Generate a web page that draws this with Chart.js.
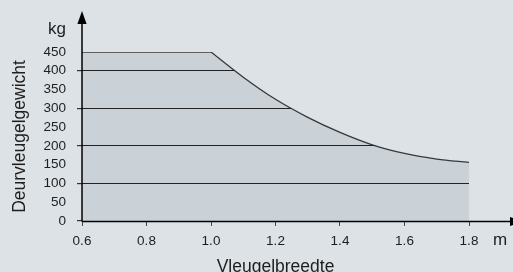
<!DOCTYPE html>
<html><head><meta charset="utf-8">
<script src="https://cdn.jsdelivr.net/npm/chart.js@4"></script>
<style>html,body{margin:0;padding:0;background:#dde2e6}canvas{display:block}</style>
</head><body>
<div style="width:513px;height:272px"><canvas id="c" width="513" height="272"></canvas></div>
<script>
// Data
const flatWidths = [0.6, 1.0];
const flatWeights = [450, 450];
const curveWidths = [1.0, 1.1, 1.2, 1.3, 1.4, 1.5, 1.6, 1.7, 1.8];
const curveWeights = [450, 383, 324, 276, 236, 203, 180, 165, 156];
const xTicks = [0.6, 0.8, 1.0, 1.2, 1.4, 1.6, 1.8];
const yTicks = [0, 50, 100, 150, 200, 250, 300, 350, 400, 450];
const gridValues = [0, 100, 200, 300, 400];
const xTitle = 'Vleugelbreedte';
const yTitle = 'Deurvleugelgewicht';
const xUnit = 'm';
const yUnit = 'kg';

const BG = '#dde2e6';
const FILL = '#cad2d8';
const LINE = '#383838';
const TEXT = '#1e1e1e';
const FONT = "'Liberation Sans', Arial, sans-serif";

const toPts = (xs, ys) => xs.map((x, i) => ({x, y: ys[i]}));
const lastW = curveWidths[curveWidths.length - 1];
const lastG = curveWeights[curveWeights.length - 1];

function align(p, w) { return Math.round(p - w / 2) + w / 2; }

const decor = {
  id: 'decor',
  beforeDraw(chart) {
    const ctx = chart.ctx;
    ctx.save();
    ctx.fillStyle = BG;
    ctx.fillRect(0, 0, chart.width, chart.height);
    ctx.restore();
  },
  afterDatasetsDraw(chart) {
    const ctx = chart.ctx;
    const xs = chart.scales.x, ys = chart.scales.y;
    const ca = chart.chartArea;
    const m0 = chart.getDatasetMeta(0).data;
    const m1 = chart.getDatasetMeta(1).data;
    ctx.save();
    ctx.beginPath();
    ctx.moveTo(xs.getPixelForValue(flatWidths[0]), ys.getPixelForValue(0));
    for (let i = 0; i < m0.length; i++) ctx.lineTo(m0[i].x, m0[i].y);
    ctx.lineTo(m1[0].x, m1[0].y);
    for (let i = 1; i < m1.length; i++) {
      const a = m1[i - 1], b = m1[i];
      if (a.cp2x !== undefined && b.cp1x !== undefined) ctx.bezierCurveTo(a.cp2x, a.cp2y, b.cp1x, b.cp1y, b.x, b.y);
      else ctx.lineTo(b.x, b.y);
    }
    ctx.lineTo(m1[m1.length - 1].x, ys.getPixelForValue(0));
    ctx.closePath();
    ctx.clip();
    ctx.strokeStyle = '#222';
    ctx.lineWidth = 1.2;
    gridValues.forEach(v => {
      if (v === 0) return;
      const y = align(ys.getPixelForValue(v), 1);
      ctx.beginPath();
      ctx.moveTo(ca.left, y);
      ctx.lineTo(ca.right, y);
      ctx.stroke();
    });
    ctx.restore();
  },
  afterDraw(chart) {
    const ctx = chart.ctx;
    const ca = chart.chartArea;
    ctx.save();
    ctx.strokeStyle = '#000';
    ctx.fillStyle = '#000';
    ctx.lineWidth = 1.5;
    const ax = ca.left;
    const ay = ca.bottom + 0.5;
    ctx.beginPath();
    ctx.moveTo(ax, ay);
    ctx.lineTo(ax, 22);
    ctx.stroke();
    ctx.beginPath();
    ctx.moveTo(ax, 11);
    ctx.lineTo(ax - 4.6, 24);
    ctx.lineTo(ax + 4.6, 24);
    ctx.closePath();
    ctx.fill();
    ctx.beginPath();
    ctx.moveTo(ax, ay);
    ctx.lineTo(512, ay);
    ctx.stroke();
    ctx.beginPath();
    ctx.moveTo(522, ay);
    ctx.lineTo(510, ay - 4.6);
    ctx.lineTo(510, ay + 4.6);
    ctx.closePath();
    ctx.fill();
    ctx.fillStyle = TEXT;
    ctx.font = '17px ' + FONT;
    ctx.textBaseline = 'alphabetic';
    ctx.textAlign = 'left';
    ctx.fillText(yUnit, 48, 34);
    ctx.fillText(xUnit, 493, 244.5);
    ctx.restore();
  }
};

new Chart(document.getElementById('c'), {
  type: 'line',
  data: {
    datasets: [
      {
        data: toPts(flatWidths, flatWeights),
        borderColor: LINE, borderWidth: 1.3, backgroundColor: FILL,
        fill: 'origin', pointRadius: 0, tension: 0
      },
      {
        data: toPts(curveWidths, curveWeights),
        borderColor: LINE, borderWidth: 1.3, backgroundColor: FILL,
        fill: 'origin', pointRadius: 0, cubicInterpolationMode: 'monotone'
      },
      {
        data: [{x: lastW, y: 0}, {x: lastW, y: lastG}],
        borderColor: LINE, borderWidth: 1.3, fill: false, pointRadius: 0
      }
    ]
  },
  options: {
    responsive: false,
    devicePixelRatio: 1,
    animation: false,
    events: [],
    layout: {padding: {top: 52, right: 44, left: 0, bottom: 0}},
    plugins: {legend: {display: false}, tooltip: {enabled: false}},
    scales: {
      x: {
        type: 'linear', min: xTicks[0], max: xTicks[xTicks.length - 1],
        afterBuildTicks: s => { s.ticks = xTicks.map(v => ({value: v})); },
        afterFit: s => { s.height = 51; },
        grid: {drawOnChartArea: false, drawTicks: true, tickLength: 5, color: '#444', lineWidth: 1},
        border: {display: false},
        ticks: {
          padding: 7.5, color: TEXT, font: {family: FONT, size: 13.5},
          maxRotation: 0, autoSkip: false,
          callback: v => Number(v).toFixed(1)
        },
        title: {display: true, text: xTitle, color: TEXT,
          font: {family: FONT, size: 17.5, lineHeight: 0.57}, padding: 0}
      },
      y: {
        type: 'linear', min: yTicks[0], max: yTicks[yTicks.length - 1],
        afterBuildTicks: s => { s.ticks = yTicks.map(v => ({value: v})); },
        afterFit: s => { s.width = 82; },
        grid: {drawOnChartArea: false, drawTicks: true, tickLength: 5,
          color: c => (c.tick && gridValues.includes(c.tick.value)) ? '#333' : 'rgba(0,0,0,0)', lineWidth: 1.2},
        border: {display: false},
        ticks: {padding: 11, color: TEXT, font: {family: FONT, size: 13.5}, autoSkip: false},
        title: {display: true, text: yTitle, color: TEXT,
          font: {family: FONT, size: 17.5, lineHeight: 1.2}, padding: {top: 9.3, bottom: 0}}
      }
    }
  },
  plugins: [decor]
});
</script>
</body></html>
